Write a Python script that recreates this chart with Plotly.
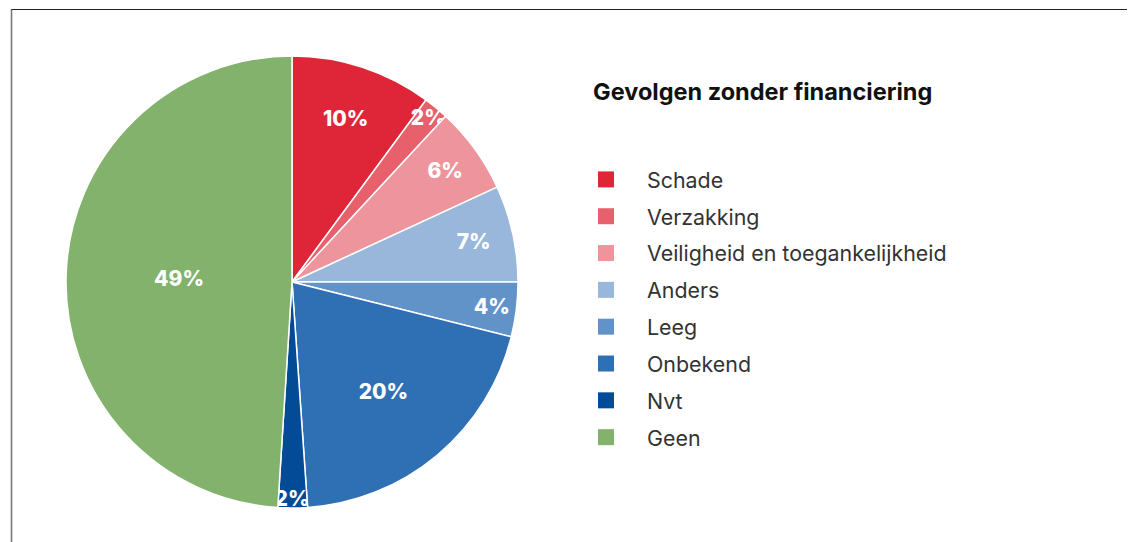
import plotly.graph_objects as go

categories = ["Schade", "Verzakking", "Veiligheid en toegankelijkheid", "Anders",
              "Leeg", "Onbekend", "Nvt", "Geen"]
values = [10.1, 1.8, 6.2, 6.9, 3.9, 20.0, 2.1, 49.0]
colors = ["#DF2638", "#E8606C", "#EE949C", "#98B7DB", "#6193C9", "#2F70B5", "#034A97", "#82B26C"]
chart_title = "Gevolgen zonder financiering"

W, H = 1135, 542
OFF = 8  # page body margin offset of the rendered html

def px(x):
    return (x - OFF) / W

def py(y):
    return 1 - (y - OFF) / H

fig = go.Figure()
fig.add_trace(go.Pie(
    labels=categories, values=values, sort=False, direction="clockwise", rotation=0,
    marker=dict(colors=colors, line=dict(color="white", width=1.5)),
    texttemplate="%{percent:.0%}", textposition="inside", insidetextorientation="horizontal",
    textfont=dict(family="Inter", size=21, color="white", weight=800),
    showlegend=False, hoverinfo="label+percent",
    domain=dict(x=[px(66), px(518)], y=[py(508), py(56)]),
))

for i, (c, col) in enumerate(zip(categories, colors)):
    fig.add_trace(go.Scatter(
        x=[None], y=[None], mode="markers", name=c, legendgroup=f"g{i}",
        marker=dict(symbol="square", size=18, color=col),
        showlegend=True,
    ))

fig.update_layout(
    width=W, height=H,
    margin=dict(l=0, r=0, t=0, b=0),
    paper_bgcolor="white", plot_bgcolor="white",
    xaxis=dict(visible=False), yaxis=dict(visible=False),
    uniformtext=dict(minsize=21, mode="show"),
    title=dict(text=f"<b>{chart_title}</b>", x=px(593), xanchor="left",
               y=py(92), yanchor="middle", xref="paper", yref="paper",
               font=dict(family="Inter", size=23.5, color="#111111", weight=800)),
    legend=dict(
        x=px(565), y=py(159), xanchor="left", yanchor="top",
        font=dict(family="Inter", size=21.4, color="#333333"),
        tracegroupgap=6, itemwidth=72,
    ),
    shapes=[
        dict(type="line", xref="paper", yref="paper", x0=px(11), x1=1.0, y0=py(9.5), y1=py(9.5),
             line=dict(color="#222222", width=1.2)),
        dict(type="line", xref="paper", yref="paper", x0=px(11.5), x1=px(11.5), y0=py(9.5), y1=0,
             line=dict(color="#777777", width=1.6)),
    ],
)

fig.write_html("out.html")
